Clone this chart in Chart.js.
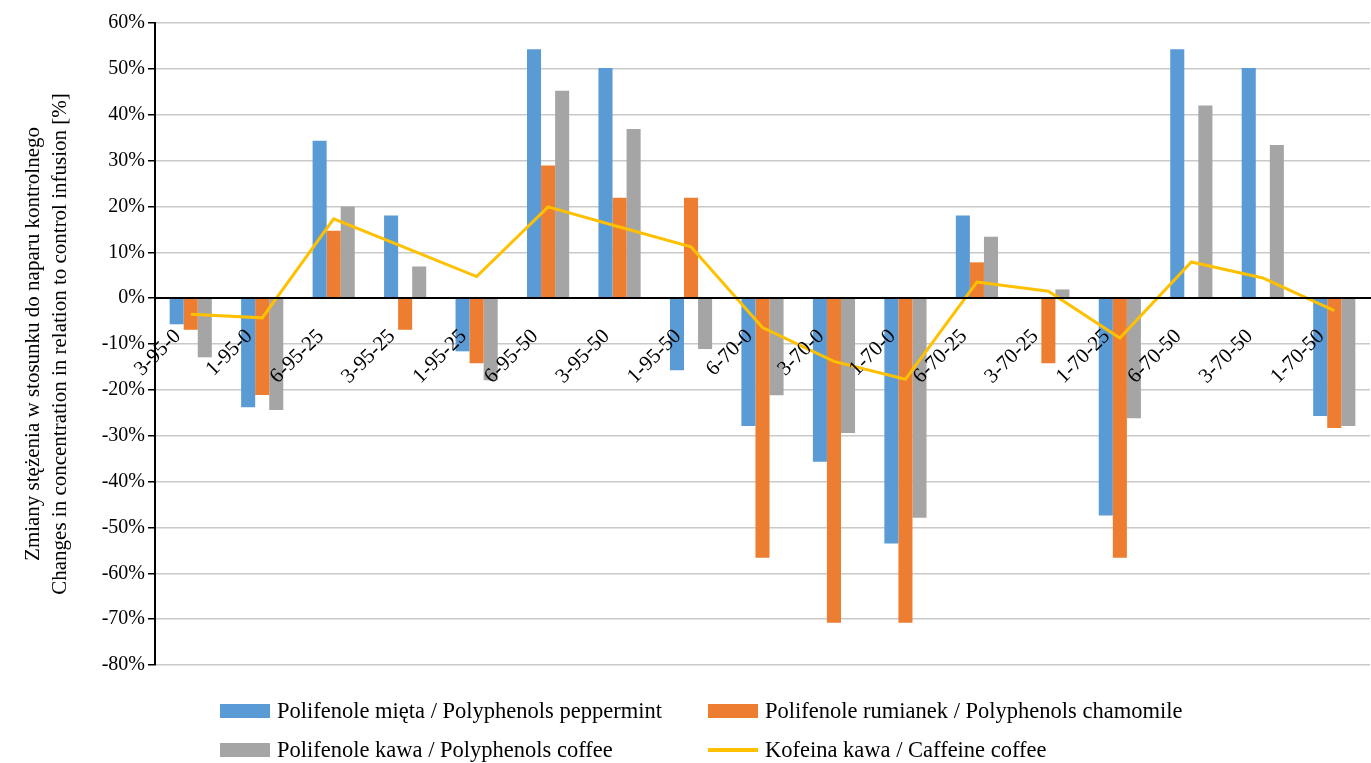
<!DOCTYPE html>
<html>
<head>
<meta charset="utf-8">
<script src="https://cdn.jsdelivr.net/npm/chart.js@4.4.0/dist/chart.umd.min.js"></script>
<style>
  html, body { margin: 0; padding: 0; background: #fff; }
  #wrap { position: relative; width: 1371px; height: 763px; }
  #legend { position: absolute; left: 0; top: 0; width: 1371px; height: 763px; pointer-events: none;
            font-family: "Liberation Serif", "Times New Roman", serif; font-size: 22.5px; color: #000; }
  .item { position: absolute; display: flex; align-items: center; white-space: nowrap; }
  .key { width: 50px; height: 14px; margin-right: 7px; flex: none; }
  .key.line { height: 4px; }
</style>
</head>
<body>
<div id="wrap">
  <canvas id="chart" width="1371" height="763"></canvas>
  <div id="legend"></div>
</div>
<script>
// Categories (sample codes) along the x axis
const categories = ["3-95-0", "1-95-0", "6-95-25", "3-95-25", "1-95-25", "6-95-50", "3-95-50", "1-95-50",
  "6-70-0", "3-70-0", "1-70-0", "6-70-25", "3-70-25", "1-70-25", "6-70-50", "3-70-50", "1-70-50"];

// Series values, % change vs control infusion
const peppermint = [-5.7, -23.8, 34.3, 18.0, -11.6, 54.3, 50.2, -15.7, -27.9, -35.7, -53.5, 18.0, null, -47.4, 54.3, 50.2, -25.7];
const chamomile = [-6.9, -21.1, 14.7, -6.9, -14.2, 28.9, 21.9, 21.9, -56.6, -70.8, -70.8, 7.8, -14.2, -56.6, null, null, -28.3];
const coffee = [-12.9, -24.4, 20.0, 6.9, -17.9, 45.2, 36.9, -11.1, -21.2, -29.4, -47.9, 13.4, 1.9, -26.2, 42.0, 33.4, -27.9];
const caffeine = [-3.5, -4.3, 17.3, 11.0, 4.7, 19.9, 15.5, 11.2, -6.4, -13.8, -17.7, 3.5, 1.5, -8.7, 7.9, 4.4, -2.7];

// Y axis tick values
const yTicks = [60, 50, 40, 30, 20, 10, 0, -10, -20, -30, -40, -50, -60, -70, -80];

const seriesLabels = [
  "Polifenole mięta / Polyphenols peppermint",
  "Polifenole rumianek / Polyphenols chamomile",
  "Polifenole kawa / Polyphenols coffee",
  "Kofeina kawa / Caffeine coffee"
];
const yTitle = ["Zmiany stężenia w stosunku do naparu kontrolnego",
  "Changes in concentration in relation to control infusion [%]"];

const serif = "'Liberation Serif', 'Times New Roman', serif";

function bar(label, data, color) {
  return {
    type: "bar", label, data, backgroundColor: color, borderWidth: 0, order: 1,
    categoryPercentage: 0.59, barPercentage: 1.0
  };
}

const ctx = document.getElementById("chart").getContext("2d");
const chart = new Chart(ctx, {
  data: {
    labels: categories,
    datasets: [
      bar(seriesLabels[0], peppermint, "#5B9BD5"),
      bar(seriesLabels[1], chamomile, "#ED7D31"),
      bar(seriesLabels[2], coffee, "#A5A5A5"),
      {
        type: "line", label: seriesLabels[3], data: caffeine, borderColor: "#FFC000",
        backgroundColor: "#FFC000", borderWidth: 3, pointRadius: 0, tension: 0, order: 0
      }
    ]
  },
  options: {
    responsive: false,
    animation: false,
    layout: { padding: { top: 23, right: 1, bottom: 98, left: 0 } },
    plugins: { legend: { display: false }, tooltip: { enabled: false } },
    scales: {
      x: {
        position: { y: 0 },
        grid: { display: false, drawTicks: false },
        border: { display: true, color: "#000", width: 2, z: 1 },
        afterFit: s => { s.height = 0; s.paddingLeft = 0; s.paddingRight = 0; },
        ticks: {
          z: 1, // labels sit on top of the bars
          autoSkip: false, maxRotation: 45, minRotation: 45, padding: 26, labelOffset: -13,
          color: "#000", font: { family: serif, size: 21 }
        }
      },
      y: {
        min: -80, max: 60,
        afterFit: s => { s.width = 155; },
        afterBuildTicks: s => { s.ticks = yTicks.map(v => ({ value: v })); },
        grid: { color: "#c9c9c9", lineWidth: 1.5, tickLength: 7, tickColor: "#000" },
        border: { display: true, color: "#000", width: 2 },
        ticks: {
          padding: 3, color: "#000", font: { family: serif, size: 20 },
          callback: v => v + "%"
        },
        title: {
          display: true, text: yTitle, color: "#000",
          font: { family: serif, size: 21, lineHeight: 1.3 },
          padding: { top: 20, bottom: 0 }
        }
      }
    }
  }
});

// Legend in two fixed columns, built from the chart's datasets
const legend = document.getElementById("legend");
const cols = [220, 708];
const rows = [711, 749.5];
chart.data.datasets.forEach((ds, i) => {
  const item = document.createElement("div");
  item.className = "item";
  item.style.left = cols[i % 2] + "px";
  item.style.top = (rows[Math.floor(i / 2)] - 13) + "px";
  item.style.height = "26px";
  const key = document.createElement("span");
  key.className = "key" + (ds.type === "line" ? " line" : "");
  key.style.background = ds.type === "line" ? ds.borderColor : ds.backgroundColor;
  const text = document.createElement("span");
  text.textContent = ds.label;
  item.appendChild(key);
  item.appendChild(text);
  legend.appendChild(item);
});
</script>
</body>
</html>
